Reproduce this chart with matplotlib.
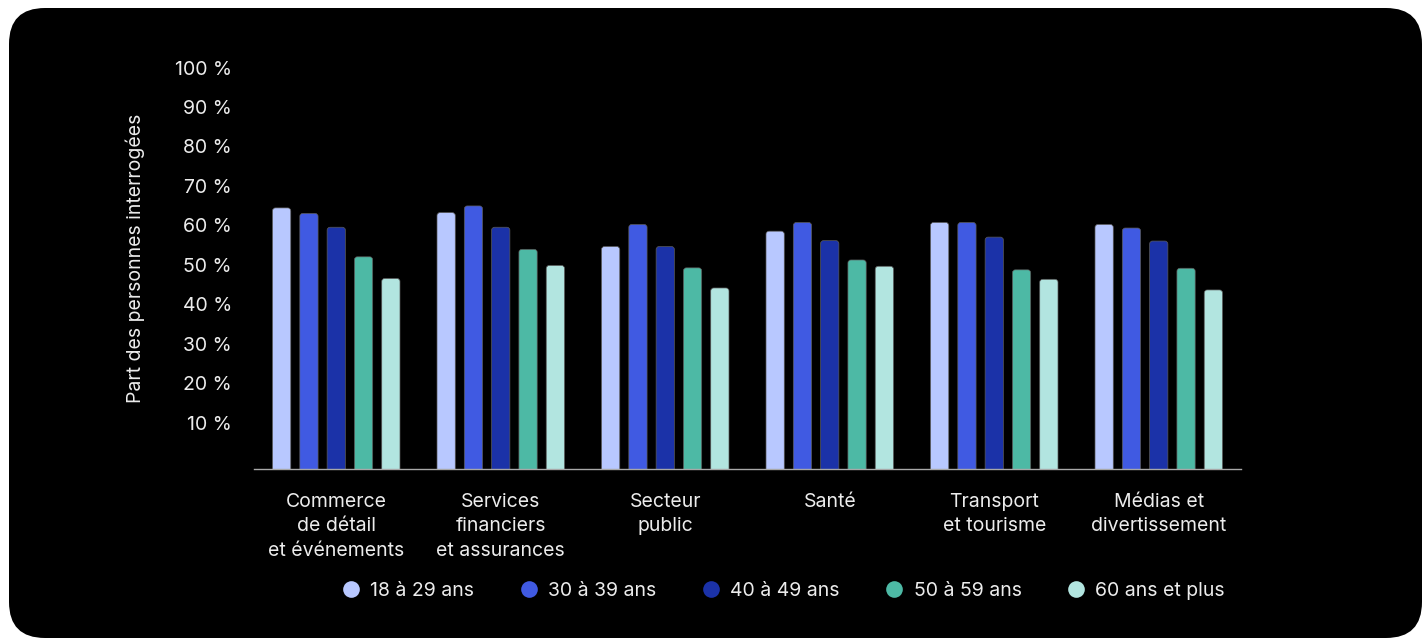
import numpy as np
import matplotlib
matplotlib.use("Agg")
import matplotlib.pyplot as plt
from matplotlib.patches import FancyBboxPatch

# --- Data ---
categories = [
    "Commerce\nde détail\net événements",
    "Services\nfinanciers\net assurances",
    "Secteur\npublic",
    "Santé",
    "Transport\net tourisme",
    "Médias et\ndivertissement",
]
age_groups = ["18 à 29 ans", "30 à 39 ans", "40 à 49 ans", "50 à 59 ans", "60 ans et plus"]
age_18_29 = [66.2, 65.0, 56.4, 60.3, 62.5, 62.0]
age_30_39 = [64.8, 66.7, 62.0, 62.5, 62.5, 61.1]
age_40_49 = [61.3, 61.3, 56.4, 57.9, 58.8, 57.8]
age_50_59 = [53.8, 55.7, 51.0, 53.0, 50.5, 50.9]
age_60_plus = [48.3, 51.6, 45.9, 51.4, 48.1, 45.4]
yticks = [10, 20, 30, 40, 50, 60, 70, 80, 90, 100]
ytick_labels = [f"{v} %" for v in yticks]

series = [age_18_29, age_30_39, age_40_49, age_50_59, age_60_plus]
colors = ["#B8C8FF", "#405AE2", "#1B32A8", "#4DB9A5", "#B2E5E0"]

plt.rcParams["font.family"] = ["Inter", "DejaVu Sans"]
text_color = "#ececec"
fs = 14

W, H = 1423, 639
fig = plt.figure(figsize=(W / 100, H / 100), dpi=100, facecolor="white")

# black rounded card behind everything
card = FancyBboxPatch((9 / W, 1 - 638 / H), (1422 - 9) / W, (638 - 8) / H,
                      boxstyle="round,pad=0,rounding_size=%f" % (36 / W),
                      mutation_aspect=W / H, transform=fig.transFigure,
                      facecolor="black", edgecolor="none", zorder=-10)
fig.patches.append(card)

ax_left, ax_right = 254 / W, 1241 / W
ax_bottom, ax_top = 1 - 469 / H, 1 - (469 - 394.4) / H
ax = fig.add_axes([ax_left, ax_bottom, ax_right - ax_left, ax_top - ax_bottom])
ax.set_facecolor("none")

x = np.arange(len(categories))
step = 0.166
width = 0.111
# px per data unit, used to keep the rounded tops circular
px_x = (1241 - 254) / 6.0
px_y = 3.944
r_px = 3.0
for i, (vals, col) in enumerate(zip(series, colors)):
    offs = (i - 2) * step
    for xi, v in zip(x, vals):
        x0 = xi + offs - width / 2
        # start below zero so the rounded bottom is clipped away by the axes
        ax.add_patch(FancyBboxPatch((x0, -3), width, v + 3,
                                    boxstyle="round,pad=0,rounding_size=%f" % (r_px / px_x),
                                    mutation_aspect=px_x / px_y,
                                    facecolor=col, edgecolor="#5a5a5a", linewidth=0.5,
                                    zorder=2))

ax.set_xlim(-0.5, 5.5)
ax.set_ylim(0, 100)

ax.set_yticks(yticks)
ax.set_yticklabels(ytick_labels, fontsize=fs, color=text_color, va="baseline")
ax.set_xticks(x)
ax.set_xticklabels(categories, fontsize=fs, color=text_color, linespacing=1.48)
ax.tick_params(axis="y", length=0, pad=16)
ax.tick_params(axis="x", length=0, pad=17)

for s in ["top", "right", "left"]:
    ax.spines[s].set_visible(False)
ax.spines["bottom"].set_color("#a8a8a8")
ax.spines["bottom"].set_linewidth(1.0)
ax.spines["bottom"].set_zorder(3)

fig.text(135 / W, 1 - 258 / H, "Part des personnes interrogées", rotation=90,
         ha="center", va="center", fontsize=fs, color=text_color)

# legend
handles = [plt.Line2D([], [], marker="o", linestyle="none", markersize=12,
                      markerfacecolor=c, markeredgecolor="none") for c in colors]
leg = fig.legend(handles, age_groups, loc="center", ncol=5,
                 bbox_to_anchor=(783 / W, 1 - 591 / H), frameon=False,
                 fontsize=fs, labelcolor=text_color, handletextpad=0.5,
                 columnspacing=2.3, handlelength=1.0)

fig.savefig("out.png", dpi=100, facecolor="white")
